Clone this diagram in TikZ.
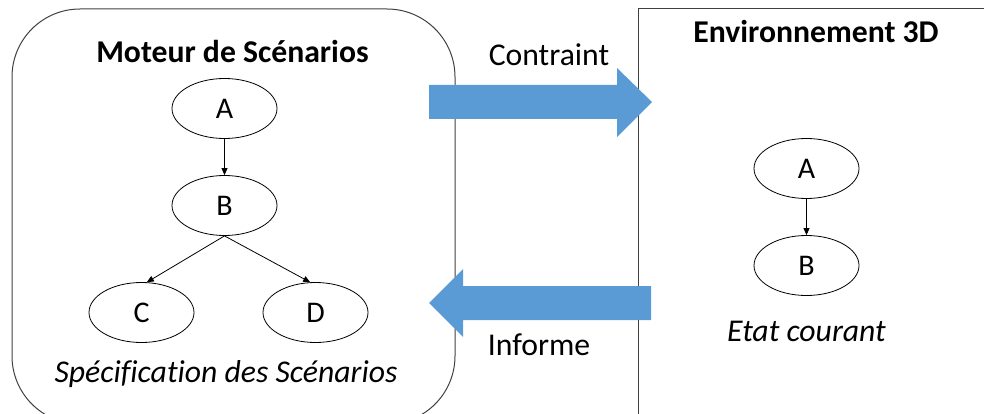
\documentclass[tikz,border=0pt]{standalone}
\usepackage{fontspec}
\setmainfont{Carlito}[Ligatures=CommonOff]
\usetikzlibrary{arrows.meta,shapes.geometric}
\definecolor{arrowblue}{HTML}{5B9BD5}
\definecolor{boxgray}{HTML}{404040}
\begin{document}
\begin{tikzpicture}[x=1pt,y=-1pt,
  boxline/.style={draw=boxgray, line width=1pt},
  ell/.style={ellipse, draw=black, line width=0.8pt, minimum width=105pt, minimum height=60pt, inner sep=0pt, font=\fontsize{30}{32}\selectfont},
  edge/.style={draw=black, line width=0.8pt, -{Triangle[length=7pt,width=6pt]}},
  lbl/.style={anchor=base, inner sep=0pt, font=\fontsize{31.7}{34}\selectfont},
  bigarrow/.style={fill=arrowblue}
]
\useasboundingbox (0,0) rectangle (984,414);
\clip (0,0) rectangle (984,414);
% boxes
\draw[boxline, rounded corners=68pt] (12,9) rectangle (455,424);
\draw[boxline] (638,9) rectangle (1000,430);
% left graph
\node[ell] (LA) at (224.5,108.5) {A};
\node[ell] (LB) at (224.5,205.5) {B};
\node[ell] (LC) at (141.5,312.5) {C};
\node[ell] (LD) at (315.5,312.5) {D};
\draw[edge] (LA) -- (LB);
\draw[edge] (LB.south) -- (LC.80);
\draw[edge] (LB.south) -- (LD.100);
% right graph
\node[ell] (RA) at (806.5,168.5) {A};
\node[ell] (RB) at (806.5,265.5) {B};
\draw[edge] (RA) -- (RB);
% texts
\node[lbl, font=\bfseries\fontsize{31.7}{34}\selectfont] (title) at (232.5,63) {Moteur de Scénarios};
\node[lbl, font=\itshape\fontsize{31.7}{34}\selectfont] (spec) at (226,382) {Spécification des Scénarios};
\node[lbl, font=\bfseries\fontsize{31.7}{34}\selectfont] (env) at (816,43) {Environnement 3D};
\node[lbl, font=\itshape\fontsize{31.7}{34}\selectfont] (etat) at (806.5,341) {Etat courant};
% big arrows
\fill[bigarrow] (429,85) -- (617,85) -- (617,68) -- (652,102) -- (617,137) -- (617,119) -- (429,119) -- cycle;
\fill[bigarrow] (429,303) -- (463,269) -- (463,286) -- (651,286) -- (651,320) -- (463,320) -- (463,337) -- cycle;
\node[lbl] (contraint) at (549,66) {Contraint};
\node[lbl] (informe) at (539,355) {Informe};
\end{tikzpicture}
\end{document}
